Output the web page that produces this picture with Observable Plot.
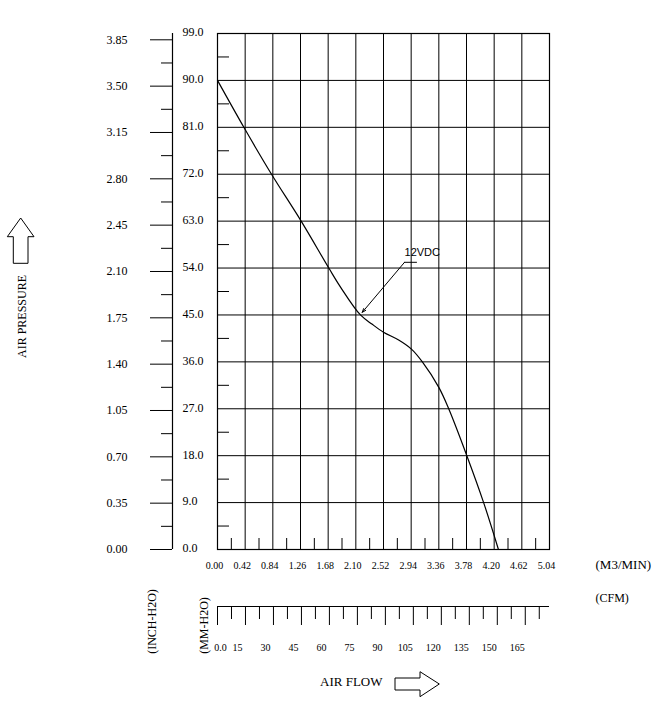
<!DOCTYPE html>
<html>
<head>
<meta charset="utf-8">
<script src="https://cdn.jsdelivr.net/npm/d3@7"></script>
<script src="https://cdn.jsdelivr.net/npm/@observablehq/plot@0.6"></script>
<style>
  html, body { margin: 0; padding: 0; background: #fff; }
  #chart svg { display: block; }
</style>
</head>
<body>
<div id="chart"></div>
<script>
// ---- data ----
const flowM3 = [0, 0.40, 0.82, 1.27, 1.69, 1.87, 2.17, 2.35, 2.52, 2.75, 2.94, 3.11, 3.36, 3.51, 3.785, 4.04, 4.265];
const pressureMM = [90, 81, 72, 63, 54, 50.3, 45, 43.2, 41.7, 40.2, 38.5, 36, 31.1, 27, 18, 9, 0];

const xTickLabels = ["0.00","0.42","0.84","1.26","1.68","2.10","2.52","2.94","3.36","3.78","4.20","4.62","5.04"];
const yTickLabels = ["0.0","9.0","18.0","27.0","36.0","45.0","54.0","63.0","72.0","81.0","90.0","99.0"];
const inchTickLabels = ["0.00","0.35","0.70","1.05","1.40","1.75","2.10","2.45","2.80","3.15","3.50","3.85"];
const cfmTickLabels = ["0.0","15","30","45","60","75","90","105","120","135","150","165"];
const cfmTickStep = 7.5;
const cfmTickMax = 172.5;

const seriesLabel = "12VDC";
const calloutFlow = [2.197, 2.839, 3.021];     // arrow tip, elbow, end of underline
const calloutPressure = [45.5, 55.1, 55.1];

// unit conversions
const MM_PER_INCH = 25.4;
const CFM_PER_M3MIN = 35.3147;

// ---- derived ----
const xTicks = xTickLabels.map(Number);
const yTicks = yTickLabels.map(Number);
const mid = a => a.slice(1).map((v, i) => (v + a[i]) / 2);
const xMinor = mid(xTicks);
const yMinor = mid(yTicks);
const inchTicks = inchTickLabels.map(Number);
const inchMajorMM = inchTicks.map(v => v * MM_PER_INCH);
const inchMinorMM = mid(inchTicks).map(v => v * MM_PER_INCH);
const cfmAll = d3.range(0, cfmTickMax + 0.01, cfmTickStep);
const cfmMajor = cfmAll.filter((v, i) => i % 2 === 0).map(v => v / CFM_PER_M3MIN);
const cfmMinor = cfmAll.filter((v, i) => i % 2 === 1).map(v => v / CFM_PER_M3MIN);
const cfmLabelData = cfmTickLabels.map(t => ({x: Number(t) / CFM_PER_M3MIN, t}));
const curve = flowM3.map((x, i) => ({x, y: pressureMM[i]}));

const serif = "'Liberation Serif', 'Times New Roman', serif";

const chart = Plot.plot({
  width: 666,
  height: 709,
  marginLeft: 217,
  marginRight: 117,
  marginTop: 33,
  marginBottom: 160,
  style: {fontFamily: serif, fontSize: "12px", background: "#fff", color: "#000", overflow: "visible"},
  x: {domain: [0, 5.04], axis: null},
  y: {domain: [0, 99], axis: null},
  marks: [
    // grid
    Plot.ruleX(xTicks, {stroke: "#000", strokeWidth: 1}),
    Plot.ruleY(yTicks, {stroke: "#000", strokeWidth: 1}),
    Plot.frame({stroke: "#000", strokeWidth: 1.2}),
    // inner minor ticks (left, pointing right) and bottom (pointing up)
    Plot.axisY(yMinor, {anchor: "left", tickSize: 12, dx: 12, fill: "none", stroke: "#000"}),
    Plot.axisX(xMinor, {anchor: "bottom", tickSize: 11, dy: -11, fill: "none", stroke: "#000"}),
    // inner MM-H2O labels
    Plot.text(yTicks, {y: d => d, text: (d, i) => yTickLabels[i], frameAnchor: "left", dx: -35, dy: -1, textAnchor: "start", fontSize: 12}),
    // M3/MIN labels
    Plot.text(xTicks, {x: d => d, text: (d, i) => xTickLabels[i], frameAnchor: "bottom", dy: 19, dx: -3, textAnchor: "middle", fontSize: 10}),
    // outer INCH-H2O axis
    Plot.ruleX([0], {dx: -45, stroke: "#000", strokeWidth: 1.2}),
    Plot.axisY(inchMajorMM, {anchor: "left", tickSize: 22, dx: -45, fill: "none", stroke: "#000"}),
    Plot.axisY(inchMinorMM, {anchor: "left", tickSize: 11, dx: -45, fill: "none", stroke: "#000"}),
    Plot.text(inchMajorMM, {y: d => d, text: (d, i) => inchTickLabels[i], frameAnchor: "left", dx: -111, textAnchor: "start", fontSize: 12}),
    // CFM axis
    Plot.ruleY([0], {dy: 57, stroke: "#000", strokeWidth: 1.2}),
    Plot.axisX(cfmMajor, {anchor: "bottom", tickSize: 19, dy: 57, fill: "none", stroke: "#000"}),
    Plot.axisX(cfmMinor, {anchor: "bottom", tickSize: 13, dy: 57, fill: "none", stroke: "#000"}),
    Plot.text(cfmLabelData.slice(0, 1), {x: "x", text: "t", frameAnchor: "bottom", dy: 101, dx: 3, textAnchor: "middle", fontSize: 10}),
    Plot.text(cfmLabelData.slice(1), {x: "x", text: "t", frameAnchor: "bottom", dy: 101, dx: -8, textAnchor: "middle", fontSize: 10}),
    // unit labels
    Plot.text(["(M3/MIN)"], {text: d => d, frameAnchor: "bottom-right", dx: 46, dy: 19, textAnchor: "start", fontSize: 13}),
    Plot.text(["(CFM)"], {text: d => d, frameAnchor: "bottom-right", dx: 46, dy: 52, textAnchor: "start", fontSize: 12}),
    Plot.text(["(INCH-H2O)"], {text: d => d, frameAnchor: "bottom-left", dx: -61.5, dy: 72, rotate: -90, textAnchor: "middle", fontSize: 12}),
    Plot.text(["(MM-H2O)"], {text: d => d, frameAnchor: "bottom-left", dx: -9.5, dy: 76, rotate: -90, textAnchor: "middle", fontSize: 12}),
    Plot.text(["AIR FLOW"], {text: d => d, frameAnchor: "bottom-left", dx: 165, dy: 136, textAnchor: "end", fontSize: 13}),
    Plot.text(["AIR PRESSURE"], {text: d => d, frameAnchor: "left", dx: -195.5, dy: 25, rotate: -90, textAnchor: "middle", fontSize: 12}),
    // performance curve
    Plot.line(curve, {x: "x", y: "y", curve: "catmull-rom", stroke: "#000", strokeWidth: 1.2}),
    // callout
    Plot.line([1, 2].map(i => ({x: calloutFlow[i], y: calloutPressure[i]})), {x: "x", y: "y", stroke: "#000", strokeWidth: 1}),
    Plot.arrow([{x1: calloutFlow[1], y1: calloutPressure[1], x2: calloutFlow[0], y2: calloutPressure[0]}],
      {x1: "x1", y1: "y1", x2: "x2", y2: "y2", stroke: "#000", strokeWidth: 1, headLength: 6, headAngle: 40}),
    Plot.text([seriesLabel], {text: d => d, x: calloutFlow[1], y: calloutPressure[1], dy: -10, textAnchor: "start",
      fontFamily: "'Liberation Sans', Arial, sans-serif", fontSize: 11})
  ]
});

// decorative outline arrows (AIR PRESSURE up, AIR FLOW right)
const svg = d3.select(chart);
svg.append("path")
  .attr("d", "M13.3,263.3 L13.3,236.7 L7.3,236.7 L20.7,218 L34,236.7 L28,236.7 L28,263.3 Z")
  .attr("fill", "none").attr("stroke", "#000").attr("stroke-width", 1);
svg.append("path")
  .attr("d", "M395,678 L420,678 L420,671.7 L439.3,684 L420,696.7 L420,690 L395,690 Z")
  .attr("fill", "none").attr("stroke", "#000").attr("stroke-width", 1);

document.getElementById("chart").appendChild(chart);
</script>
</body>
</html>
